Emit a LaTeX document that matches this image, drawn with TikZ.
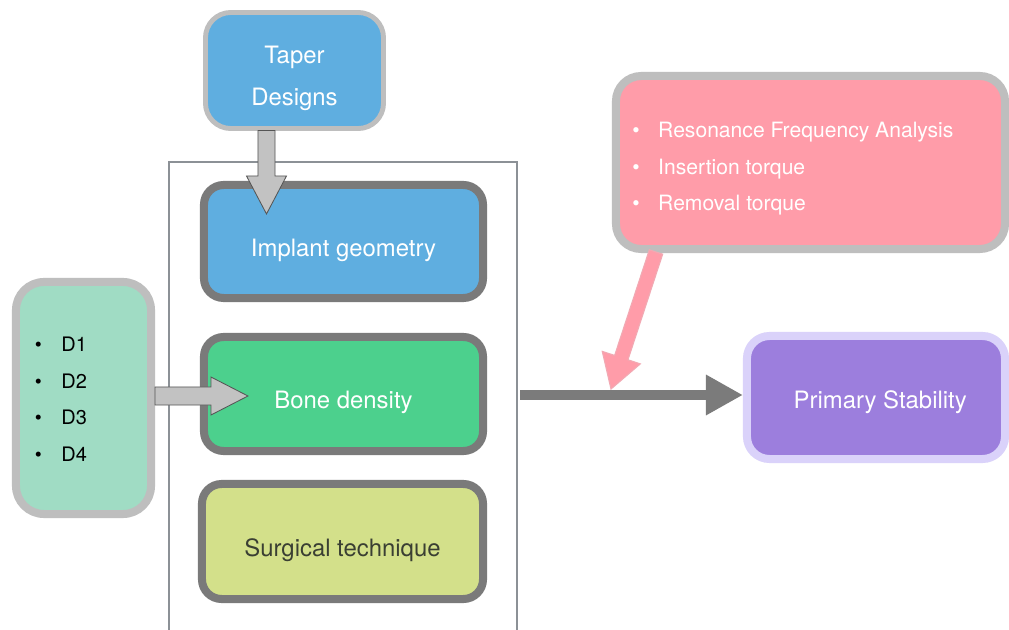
\documentclass[tikz,border=0pt]{standalone}
\usepackage{fontspec}
\setmainfont{TeX Gyre Heros}
\usetikzlibrary{calc,arrows.meta}
\definecolor{cblue}{HTML}{5FAEE0}
\definecolor{cgreen}{HTML}{4CD08D}
\definecolor{cyellow}{HTML}{D3E08A}
\definecolor{cmint}{HTML}{A0DCC4}
\definecolor{cpink}{HTML}{FF9CA9}
\definecolor{cpinkline}{HTML}{F2A9B3}
\definecolor{cpurple}{HTML}{9C7EDD}
\definecolor{clav}{HTML}{DAD2FA}
\definecolor{lgray}{HTML}{BEBEBE}
\definecolor{dgray}{HTML}{7A7A7A}
\definecolor{fgray}{HTML}{8C9196}
\definecolor{agray}{HTML}{7B7B7B}
\definecolor{afill}{HTML}{C2C2C2}
\definecolor{aline}{HTML}{555555}
\definecolor{tdark}{HTML}{3A3F33}
\begin{document}
\begin{tikzpicture}[x=0.025cm, y=-0.025cm,
  lbl/.style={align=center, text=white, font=\fontsize{17}{30}\selectfont, outer sep=0pt},
  innerbox/.style={lbl, draw=dgray, line width=5.7pt, rounded corners=14pt,
    minimum width=6.975cm, minimum height=2.85cm, text height=21pt, text depth=0pt},
  outerbox/.style={draw=lgray, line width=5.7pt, rounded corners=18pt, outer sep=0pt},
  barrow/.style n args={3}{line join=miter, to path={
      ($(\tikztostart)!#1!90:(\tikztotarget)$)
      -- ($(\tikztotarget)!#3!(\tikztostart)!#1!90:(\tikztotarget)$)
      -- ($(\tikztotarget)!#3!(\tikztostart)!#2!90:(\tikztotarget)$)
      -- (\tikztotarget)
      -- ($(\tikztotarget)!#3!(\tikztostart)!#2!-90:(\tikztotarget)$)
      -- ($(\tikztotarget)!#3!(\tikztostart)!#1!-90:(\tikztotarget)$)
      -- ($(\tikztostart)!#1!-90:(\tikztotarget)$)
      -- cycle}},
  grayarrow/.style={fill=afill, draw=aline, line width=0.6pt},
  pinkarrow/.style={fill=cpink, draw=cpinkline, line width=0.8pt},
]
\useasboundingbox (0,0) rectangle (1009,630);
\fill[white] (0,0) rectangle (1009,630);

% container frame
\coordinate (fbl) at (169,631);
\coordinate (ftr) at (517,162);
\draw[fgray, line width=1.4pt] (fbl) |- (ftr) -- (ftr |- fbl);

% boxes
\node[lbl, outerbox, line width=3.5pt, fill=cblue, minimum width=4.45cm, minimum height=2.9cm,
      text height=50pt, text depth=0pt] (taper) at (294.5,70.5) {Taper\\Designs};
\node[innerbox, fill=cblue, minimum height=2.825cm] (impl) at (343.5,241.5) {Implant geometry};
\node[innerbox, fill=cgreen] (bone) at (343.5,394) {Bone density};
\node[innerbox, fill=cyellow, text=tdark, minimum width=7.025cm, minimum height=2.875cm]
      (surg) at (342.5,541.5) {Surgical technique};

\node[outerbox, fill=cmint, minimum width=3.375cm, minimum height=5.8cm, rounded corners=20pt]
      (dbox) at (83.5,398) {};
\node[anchor=base west, inner sep=0pt, font=\fontsize{14.2}{26}\selectfont] (dlist) at (34.5,351.7)
  {\begin{tabular}[t]{@{}l@{\hspace{14pt}}l@{}}•&D1\\ •&D2\\ •&D3\\ •&D4\end{tabular}};

\node[outerbox, fill=cpink, minimum width=9.725cm, minimum height=4.325cm, rounded corners=18pt]
      (pbox) at (810.5,162.5) {};
\node[anchor=base west, inner sep=0pt, text=white, font=\fontsize{15}{25.9}\selectfont] (plist) at (632,138)
  {\begin{tabular}[t]{@{}l@{\hspace{13.2pt}}l@{}}•&Resonance Frequency Analysis\\ •&Insertion torque\\ •&Removal torque\end{tabular}};

\node[lbl, draw=clav, line width=5.7pt, fill=cpurple, rounded corners=16pt, minimum width=6.45cm,
      minimum height=3.075cm, text height=16pt, text depth=0pt] (ps) at (876,397.5) {\hspace{6pt}Primary Stability};

% connectors
\coordinate (ta) at ($(taper.south)+(-28,2)$);
\coordinate (tb) at ($(impl.north)+(-77,29)$);
\draw[grayarrow, barrow={0.2125cm}{0.5cm}{0.95cm}] (ta) to (tb);

\coordinate (da) at ($(dbox.east)+(4,-2)$);
\coordinate (db) at ($(bone.west)+(44,2)$);
\draw[grayarrow, barrow={0.225cm}{0.475cm}{0.925cm}] (da) to (db);

\coordinate (ga) at ($(ftr)+(3,233)$);
\draw[agray, line width=7pt, shorten >=0.1cm, -{Triangle[length=0.925cm,width=0.95cm]}] (ga) -- (ga -| ps.west);

\coordinate (pa) at ($(pbox.south)+(-154.5,3)$);
\coordinate (pb) at (611,389);
\draw[pinkarrow, barrow={0.175cm}{0.5cm}{0.825cm}] (pa) to (pb);
\end{tikzpicture}
\end{document}
